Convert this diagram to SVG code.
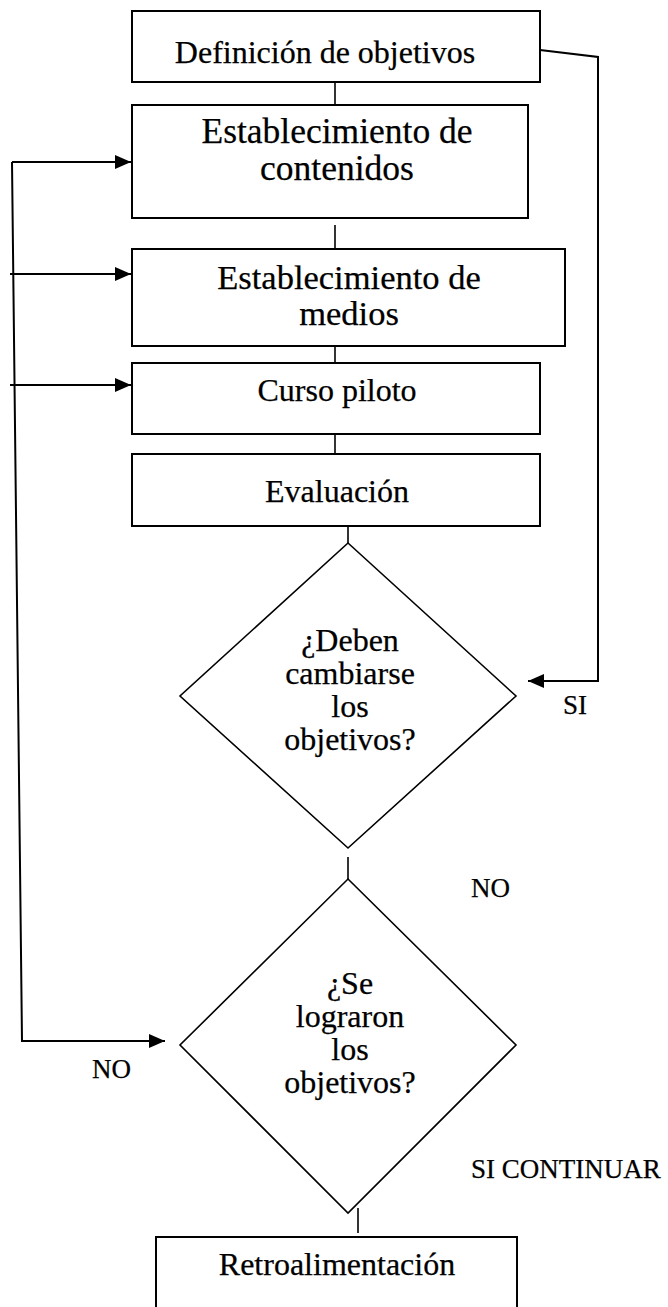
<svg xmlns="http://www.w3.org/2000/svg" width="668" height="1307" viewBox="0 0 668 1307">
<defs>
<marker id="ah" markerWidth="16" markerHeight="14" refX="16" refY="7" orient="auto" markerUnits="userSpaceOnUse">
<path d="M0,0 L16,7 L0,14 Z" fill="#000"/>
</marker>
<style>
.box{fill:#fff;stroke:#000;stroke-width:2}
.dia{fill:#fff;stroke:#000;stroke-width:1.6}
.ln{fill:none;stroke:#000;stroke-width:1.6}
.ar{fill:none;stroke:#000;stroke-width:2}
text{font-family:"Liberation Serif","Times New Roman",serif;fill:#000;stroke:#000;stroke-width:0.25}
.c{text-anchor:middle}
.s26{font-size:32px}
.s28{font-size:35.5px}
.s27{font-size:34.5px}
.s24{font-size:27px}
</style>
</defs>
<rect width="668" height="1307" fill="#fff"/>
<g id="connectors">
<line class="ln" x1="335" y1="82" x2="335" y2="105"/>
<line class="ln" x1="335" y1="225" x2="335" y2="249"/>
<line class="ln" x1="335" y1="346" x2="335" y2="368"/>
<line class="ln" x1="335" y1="430" x2="335" y2="454"/>
<line class="ln" x1="348" y1="519" x2="348" y2="543"/>
<line class="ln" x1="348" y1="857" x2="348" y2="879"/>
<line class="ln" x1="358" y1="1208" x2="358" y2="1233"/>
<polyline class="ar" points="540,50 598,57 598,681 528,681" marker-end="url(#ah)"/>
<polyline class="ar" points="12,162 22,1041 165,1041" marker-end="url(#ah)"/>
<line class="ar" x1="12" y1="162" x2="131" y2="162" marker-end="url(#ah)"/>
<line class="ar" x1="10" y1="274" x2="131" y2="274" marker-end="url(#ah)"/>
<line class="ar" x1="10" y1="385" x2="131" y2="385" marker-end="url(#ah)"/>
</g>
<g id="n1"><rect class="box" x="132" y="11" width="408" height="71"/><text class="c s26" x="325" y="63">Definición de objetivos</text></g>
<g id="n2"><rect class="box" x="132" y="105" width="396" height="113"/><text class="c s28" x="337" y="143">Establecimiento de<tspan x="337" dy="37">contenidos</tspan></text></g>
<g id="n3"><rect class="box" x="132" y="249" width="433" height="97"/><text class="c s27" x="349" y="289">Establecimiento de<tspan x="349" dy="36">medios</tspan></text></g>
<g id="n4"><rect class="box" x="132" y="363" width="408" height="71"/><text class="c s26" x="337" y="401">Curso piloto</text></g>
<g id="n5"><rect class="box" x="132" y="454" width="408" height="72"/><text class="c s26" x="337" y="502">Evaluación</text></g>
<g id="d1"><polygon class="dia" points="348,543 516,696 348,848 180,696"/>
<text class="c s26" x="350" y="651">¿Deben<tspan x="350" dy="33">cambiarse</tspan><tspan x="350" dy="33">los</tspan><tspan x="350" dy="33">objetivos?</tspan></text></g>
<g id="d2"><polygon class="dia" points="348,879 516,1045 348,1213 180,1045"/>
<text class="c s26" x="350" y="994">¿Se<tspan x="350" dy="33">lograron</tspan><tspan x="350" dy="33">los</tspan><tspan x="350" dy="33">objetivos?</tspan></text></g>
<g id="n6"><rect class="box" x="156" y="1237" width="361" height="80"/><text class="c s26" x="337" y="1275">Retroalimentación</text></g>
<g id="labels">
<text class="s24" x="563" y="714">SI</text>
<text class="s24" x="471" y="897">NO</text>
<text class="s24" x="92" y="1078">NO</text>
<text class="s24" x="471" y="1178">SI CONTINUAR</text>
</g>
</svg>
